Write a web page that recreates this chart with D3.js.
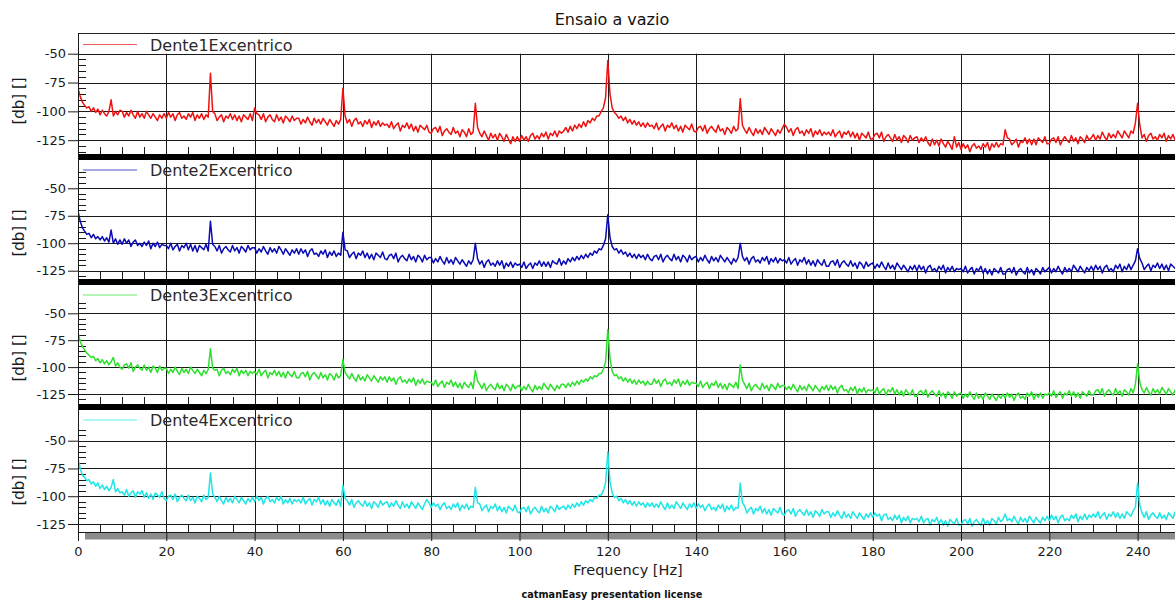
<!DOCTYPE html>
<html><head><meta charset="utf-8">
<script src="https://cdn.jsdelivr.net/npm/d3@7"></script>
<style>
body{margin:0;background:#fff;}
svg{display:block;font-family:"DejaVu Sans",Verdana,sans-serif;}
</style>
</head><body>
<svg id="c" width="1175" height="601"></svg>
<script>
const chartTitle = "Ensaio a vazio";
const xTitle = "Frequency [Hz]";
const yTitle = "[db] []";
const footer = "catmanEasy presentation license";
const seriesNames = ["Dente1Excentrico","Dente2Excentrico","Dente3Excentrico","Dente4Excentrico"];
const seriesColors = ["#f01010","#0a0ab4","#2ee02e","#1ee6e6"];
const xTicks = [0,20,40,60,80,100,120,140,160,180,200,220,240];
const yTicks = [-50,-75,-100,-125];
const freqStart = 0, freqStep = 0.5;   // spectrum sampling (Hz)

const dente1 = [
-80,-87,-92,-95,-97,-96,-100,-97,-101,-98,-103,-99,-102,-104,-100,-90,-104,-100,-103,-99,
-100,-105,-101,-104,-99,-103,-106,-100,-105,-102,-106,-100,-103,-106,-102,-105,-108,-103,-106,-102,
-106,-101,-105,-102,-108,-103,-101,-106,-104,-107,-102,-105,-101,-108,-103,-106,-102,-107,-103,-105,
-67,-100,-102,-108,-105,-103,-109,-104,-106,-102,-107,-103,-108,-104,-109,-103,-105,-107,-102,-108,
-97,-102,-103,-107,-102,-109,-105,-103,-107,-109,-103,-108,-105,-110,-104,-106,-109,-104,-108,-106,
-106,-111,-107,-110,-105,-109,-112,-106,-110,-107,-111,-106,-109,-112,-107,-110,-113,-108,-111,-107,
-80,-104,-110,-107,-113,-108,-106,-111,-109,-113,-108,-111,-107,-114,-109,-112,-108,-113,-110,-112,
-111,-114,-109,-115,-112,-110,-117,-112,-114,-110,-115,-111,-117,-113,-118,-112,-114,-116,-112,-118,
-119,-115,-114,-118,-113,-121,-117,-115,-118,-120,-114,-119,-117,-122,-116,-118,-122,-115,-120,-118,
-93,-114,-119,-122,-117,-121,-125,-119,-123,-120,-125,-119,-122,-126,-120,-124,-128,-122,-126,-122,
-126,-121,-125,-122,-126,-121,-119,-124,-121,-124,-119,-122,-118,-124,-119,-121,-117,-122,-117,-119,
-117,-114,-118,-113,-117,-112,-115,-111,-114,-109,-113,-108,-110,-106,-108,-104,-104,-100,-97,-88,
-56,-85,-97,-101,-103,-106,-104,-108,-105,-110,-107,-111,-108,-112,-109,-113,-110,-114,-110,-113,
-112,-115,-110,-116,-113,-111,-117,-112,-114,-110,-115,-112,-117,-113,-118,-112,-114,-116,-111,-117,
-118,-114,-113,-117,-112,-119,-115,-113,-116,-118,-112,-117,-115,-120,-114,-116,-119,-113,-117,-115,
-89,-112,-116,-119,-114,-118,-121,-115,-119,-116,-120,-114,-117,-120,-115,-118,-121,-116,-119,-115,
-111,-114,-118,-115,-121,-116,-114,-119,-117,-121,-116,-119,-115,-122,-117,-120,-116,-121,-118,-120,
-118,-121,-116,-122,-119,-117,-123,-118,-120,-117,-122,-118,-123,-119,-125,-119,-121,-123,-118,-124,
-124,-120,-119,-123,-118,-126,-122,-120,-123,-126,-120,-125,-122,-127,-121,-123,-127,-121,-125,-123,
-122,-127,-123,-126,-122,-127,-130,-124,-129,-125,-130,-124,-128,-131,-126,-129,-133,-122,-131,-127,
-133,-128,-132,-129,-135,-130,-128,-132,-130,-133,-128,-131,-127,-134,-128,-131,-127,-131,-128,-129,
-116,-123,-124,-129,-127,-124,-131,-126,-127,-123,-128,-124,-129,-124,-129,-123,-125,-127,-122,-128,
-128,-124,-123,-127,-122,-129,-125,-122,-125,-127,-121,-126,-123,-128,-122,-124,-127,-121,-125,-123,
-120,-125,-121,-124,-118,-122,-125,-119,-123,-120,-123,-117,-120,-123,-117,-120,-123,-117,-119,-110,
-93,-112,-123,-120,-126,-121,-119,-124,-122,-125,-120,-123,-119,-126,-121,-124,-120,-125,-121,-123];

const dente2 = [
-71,-80,-86,-89,-92,-91,-95,-92,-96,-94,-97,-94,-98,-95,-99,-88,-100,-96,-101,-97,
-101,-96,-100,-97,-103,-99,-97,-102,-100,-103,-99,-102,-98,-105,-100,-103,-99,-104,-101,-102,
-102,-105,-100,-106,-103,-101,-107,-102,-104,-100,-106,-101,-107,-102,-108,-102,-104,-106,-101,-107,
-80,-101,-103,-107,-102,-109,-105,-103,-106,-108,-102,-107,-104,-109,-103,-105,-108,-102,-106,-104,
-104,-109,-105,-108,-103,-107,-110,-104,-108,-105,-109,-103,-106,-110,-105,-108,-111,-106,-109,-105,
-110,-105,-109,-106,-112,-107,-105,-110,-109,-112,-107,-110,-106,-113,-108,-111,-107,-112,-109,-111,
-90,-106,-107,-113,-110,-108,-114,-109,-111,-107,-113,-109,-114,-110,-115,-109,-111,-113,-108,-114,
-115,-111,-110,-114,-109,-117,-113,-111,-114,-116,-110,-115,-112,-117,-111,-113,-117,-111,-115,-113,
-113,-118,-114,-117,-112,-116,-119,-113,-118,-115,-119,-113,-116,-119,-115,-118,-121,-116,-119,-115,
-100,-114,-119,-116,-122,-117,-115,-120,-118,-121,-116,-120,-116,-123,-118,-121,-117,-122,-118,-120,
-119,-122,-117,-123,-120,-118,-123,-118,-120,-116,-121,-117,-121,-117,-122,-116,-118,-119,-114,-120,
-116,-119,-114,-117,-113,-116,-112,-115,-111,-114,-110,-113,-109,-111,-107,-109,-105,-106,-102,-96,
-74,-95,-103,-106,-105,-109,-106,-110,-108,-112,-109,-113,-110,-114,-110,-113,-111,-115,-110,-114,
-116,-112,-111,-115,-110,-117,-113,-111,-114,-116,-110,-115,-112,-117,-111,-113,-117,-111,-115,-113,
-112,-117,-113,-116,-111,-115,-118,-112,-116,-113,-117,-111,-114,-117,-113,-116,-119,-114,-117,-113,
-100,-112,-116,-113,-119,-114,-112,-117,-115,-118,-113,-116,-112,-119,-114,-117,-113,-118,-114,-116,
-115,-118,-113,-119,-116,-114,-120,-115,-117,-113,-119,-115,-120,-116,-121,-115,-118,-120,-115,-121,
-121,-117,-116,-120,-115,-122,-118,-116,-119,-121,-116,-121,-118,-123,-117,-119,-123,-117,-121,-119,
-118,-123,-119,-122,-117,-121,-124,-118,-123,-120,-124,-118,-121,-124,-120,-123,-126,-121,-124,-120,
-125,-120,-124,-121,-127,-122,-120,-125,-123,-126,-121,-124,-120,-127,-122,-125,-121,-126,-123,-124,
-123,-126,-121,-127,-124,-122,-128,-123,-125,-121,-127,-123,-128,-124,-129,-123,-125,-127,-122,-128,
-128,-124,-123,-127,-122,-129,-125,-123,-126,-128,-122,-127,-124,-129,-123,-125,-128,-122,-126,-124,
-122,-127,-123,-126,-121,-125,-128,-122,-126,-123,-126,-120,-123,-126,-121,-124,-127,-122,-125,-121,
-125,-120,-124,-121,-127,-122,-120,-125,-123,-126,-120,-123,-119,-126,-121,-124,-119,-124,-120,-116,
-105,-114,-118,-124,-121,-119,-125,-120,-122,-118,-123,-119,-124,-120,-125,-119,-121,-123,-118,-124];

const dente3 = [
-68,-76,-81,-84,-87,-89,-91,-90,-94,-92,-96,-93,-97,-94,-98,-95,-91,-99,-96,-100,
-102,-98,-97,-101,-96,-104,-100,-98,-101,-103,-98,-103,-100,-105,-99,-101,-105,-99,-103,-101,
-101,-106,-102,-105,-100,-104,-107,-101,-105,-102,-106,-100,-103,-106,-102,-105,-108,-103,-106,-102,
-83,-101,-103,-102,-108,-103,-101,-106,-104,-107,-102,-105,-101,-108,-103,-106,-103,-108,-104,-106,
-104,-107,-102,-108,-105,-103,-110,-105,-107,-103,-108,-104,-109,-105,-110,-104,-107,-109,-104,-110,
-110,-106,-105,-109,-104,-112,-107,-105,-108,-111,-105,-110,-107,-112,-106,-108,-112,-106,-110,-108,
-93,-105,-108,-111,-106,-110,-113,-107,-112,-109,-113,-107,-110,-113,-108,-111,-114,-109,-112,-109,
-114,-109,-113,-110,-116,-111,-109,-114,-112,-115,-111,-114,-110,-117,-112,-115,-111,-116,-113,-114,
-114,-117,-112,-118,-115,-113,-119,-114,-116,-112,-118,-114,-119,-115,-120,-114,-117,-119,-114,-120,
-103,-113,-116,-120,-115,-122,-118,-116,-119,-121,-115,-120,-117,-122,-116,-118,-122,-116,-120,-118,
-117,-122,-118,-121,-116,-120,-123,-117,-121,-118,-121,-115,-118,-121,-116,-119,-122,-117,-120,-116,
-116,-119,-115,-118,-114,-117,-113,-116,-112,-114,-111,-113,-109,-111,-108,-109,-106,-106,-102,-95,
-65,-92,-104,-108,-107,-111,-109,-113,-110,-114,-111,-115,-112,-116,-112,-115,-113,-117,-113,-116,
-116,-111,-115,-112,-118,-113,-111,-116,-114,-117,-112,-115,-111,-118,-113,-116,-112,-117,-114,-115,
-115,-118,-113,-119,-116,-114,-120,-115,-117,-113,-119,-115,-120,-116,-121,-115,-117,-119,-114,-120,
-98,-112,-116,-120,-115,-122,-118,-116,-119,-121,-115,-120,-117,-122,-116,-118,-121,-115,-119,-117,
-117,-121,-118,-121,-116,-120,-123,-117,-121,-118,-122,-116,-119,-122,-117,-120,-123,-118,-121,-117,
-122,-117,-121,-118,-124,-119,-117,-122,-121,-124,-119,-122,-118,-125,-120,-123,-119,-124,-121,-122,
-121,-124,-119,-125,-122,-120,-126,-121,-123,-119,-125,-121,-126,-122,-127,-121,-124,-126,-121,-127,
-127,-123,-122,-126,-121,-128,-124,-122,-125,-127,-122,-127,-124,-129,-123,-125,-129,-123,-127,-125,
-124,-129,-125,-128,-123,-127,-130,-124,-129,-126,-130,-124,-127,-130,-125,-128,-131,-126,-129,-125,
-129,-124,-128,-125,-131,-126,-124,-129,-127,-130,-124,-127,-123,-130,-125,-128,-124,-129,-125,-126,
-124,-127,-122,-128,-125,-123,-129,-124,-126,-122,-127,-123,-128,-124,-129,-123,-125,-127,-122,-126,
-126,-122,-121,-125,-120,-127,-123,-121,-124,-126,-120,-125,-122,-127,-121,-123,-126,-120,-124,-116,
-97,-114,-121,-124,-119,-123,-126,-120,-124,-121,-125,-119,-122,-125,-120,-123,-126,-121,-124,-120];

const dente4 = [
-66,-75,-81,-83,-86,-85,-89,-87,-91,-88,-93,-90,-94,-91,-95,-92,-85,-96,-93,-97,
-96,-99,-94,-100,-97,-95,-101,-96,-98,-95,-101,-97,-102,-98,-103,-97,-99,-101,-96,-102,
-104,-100,-99,-103,-98,-105,-101,-99,-102,-104,-99,-104,-101,-106,-100,-102,-105,-99,-103,-101,
-79,-98,-101,-105,-100,-104,-107,-101,-105,-102,-106,-100,-103,-106,-101,-104,-107,-102,-105,-101,
-105,-100,-104,-101,-107,-102,-100,-105,-103,-106,-101,-104,-100,-107,-103,-106,-102,-107,-103,-105,
-103,-106,-101,-107,-104,-102,-108,-103,-105,-101,-107,-103,-108,-104,-109,-103,-106,-108,-103,-109,
-90,-102,-104,-108,-103,-110,-106,-104,-107,-109,-104,-109,-106,-111,-105,-107,-110,-104,-108,-106,
-105,-110,-106,-109,-104,-108,-111,-105,-110,-107,-111,-105,-108,-111,-106,-109,-112,-107,-103,-106,
-110,-106,-109,-107,-112,-108,-106,-111,-109,-112,-107,-110,-106,-113,-108,-111,-107,-112,-109,-110,
-92,-106,-107,-113,-110,-108,-114,-109,-111,-107,-113,-109,-114,-110,-115,-109,-111,-113,-108,-114,
-115,-111,-110,-114,-109,-116,-112,-110,-113,-115,-109,-114,-111,-115,-109,-111,-114,-108,-112,-110,
-109,-112,-108,-111,-107,-110,-106,-109,-105,-108,-104,-106,-103,-105,-101,-102,-99,-99,-95,-88,
-60,-87,-97,-101,-100,-104,-102,-106,-103,-107,-104,-108,-105,-109,-105,-108,-106,-110,-106,-109,
-106,-110,-107,-110,-105,-109,-112,-106,-111,-108,-111,-105,-108,-111,-106,-109,-112,-107,-110,-106,
-111,-107,-110,-108,-113,-109,-107,-112,-110,-113,-108,-111,-107,-114,-109,-112,-108,-113,-110,-111,
-88,-106,-109,-115,-112,-110,-116,-111,-113,-109,-115,-111,-116,-112,-117,-111,-113,-115,-110,-116,
-117,-113,-112,-116,-111,-118,-114,-112,-115,-117,-112,-117,-114,-119,-113,-115,-118,-112,-116,-114,
-114,-119,-115,-118,-113,-117,-120,-114,-119,-116,-120,-114,-117,-120,-115,-118,-121,-116,-119,-115,
-119,-115,-118,-116,-122,-117,-116,-121,-119,-122,-117,-121,-117,-124,-119,-122,-118,-124,-120,-121,
-120,-123,-118,-124,-121,-120,-126,-121,-123,-119,-125,-121,-126,-122,-127,-121,-123,-125,-120,-126,
-126,-122,-121,-125,-120,-127,-123,-121,-124,-126,-120,-125,-122,-126,-120,-122,-125,-119,-123,-121,
-116,-122,-120,-123,-118,-122,-125,-119,-123,-120,-124,-118,-121,-124,-119,-122,-124,-119,-122,-118,
-122,-117,-121,-118,-124,-119,-117,-122,-120,-122,-117,-120,-116,-123,-118,-121,-116,-121,-117,-119,
-116,-119,-114,-120,-117,-115,-121,-116,-118,-114,-119,-115,-120,-116,-120,-114,-116,-118,-113,-110,
-88,-108,-115,-119,-114,-121,-117,-115,-118,-120,-115,-120,-117,-121,-115,-117,-120,-114,-118,-116];

const seriesValues = [dente1, dente2, dente3, dente4];

// ---------- layout (pixels) ----------
const W = 1175;
const x = d3.scaleLinear().domain([0, 250]).range([78, 78 + 250 * 4.415]);
const panels = [
  {frameTop:33,  gridTop:53.7, bottom:154, y50:53.7,  y125:140.2, minorFrom:-55, labelY:101, legendBase:50.5},
  {frameTop:160, gridTop:160,  bottom:279, y50:188.3, y125:270.7, minorFrom:-35, labelY:233, legendBase:176},
  {frameTop:285, gridTop:285,  bottom:404, y50:313.3, y125:394,   minorFrom:-40, labelY:358, legendBase:301},
  {frameTop:410, gridTop:410,  bottom:532, y50:440.7, y125:524,   minorFrom:-40, labelY:482, legendBase:426}
];

const svg = d3.select("#c");
svg.append("rect").attr("width", W).attr("height", 601).attr("fill", "#fff");
const defs = svg.append("defs");

svg.append("text").attr("x", 612).attr("y", 25).attr("text-anchor", "middle")
  .attr("font-size", 16).attr("fill", "#111").text(chartTitle);

svg.append("line").attr("x1", 78).attr("x2", W).attr("y1", 33.5).attr("y2", 33.5)
  .attr("stroke", "#222").attr("stroke-width", 1);

const minorX = d3.range(5, 250, 5).filter(v => v % 20 !== 0);

panels.forEach((p, i) => {
  const y = d3.scaleLinear().domain([-125, -50]).range([p.y125, p.y50]);
  const last = i === panels.length - 1;
  const plotBottom = last ? 524 : p.bottom;
  const g = svg.append("g");

  g.selectAll(".hg").data(yTicks).join("line")
    .attr("x1", 78).attr("x2", W)
    .attr("y1", d => Math.round(y(d)) + 0.5).attr("y2", d => Math.round(y(d)) + 0.5)
    .attr("stroke", "#1a1a1a").attr("stroke-width", 1);

  g.selectAll(".vg").data(xTicks.filter(d => d > 0)).join("line")
    .attr("x1", d => Math.round(x(d)) + 0.5).attr("x2", d => Math.round(x(d)) + 0.5)
    .attr("y1", p.gridTop).attr("y2", p.bottom)
    .attr("stroke", "#1a1a1a").attr("stroke-width", 1);

  const dBottom = y.invert(plotBottom - 1);
  const minorY = d3.range(p.minorFrom, dBottom, -5).filter(v => v % 25 !== 0);
  g.selectAll(".my").data(minorY).join("line")
    .attr("x1", 78).attr("x2", 86)
    .attr("y1", d => Math.round(y(d)) + 0.5).attr("y2", d => Math.round(y(d)) + 0.5)
    .attr("stroke", "#1a1a1a").attr("stroke-width", 1);

  g.selectAll(".mx").data(minorX).join("line")
    .attr("x1", d => Math.round(x(d)) + 0.5).attr("x2", d => Math.round(x(d)) + 0.5)
    .attr("y1", last ? 524 : p.bottom - 7).attr("y2", p.bottom)
    .attr("stroke", "#1a1a1a").attr("stroke-width", 1);

  const ax = g.append("g").attr("transform", "translate(78,0)")
    .call(d3.axisLeft(y).tickValues(yTicks).tickSize(10).tickPadding(2).tickFormat(d => String(d)));
  ax.select(".domain").remove();
  ax.selectAll("line").attr("stroke", "#1a1a1a");
  ax.selectAll("text").attr("font-size", 13).attr("fill", "#1a1a1a")
    .attr("font-family", '"DejaVu Sans",Verdana,sans-serif');

  const cid = "clip" + i;
  defs.append("clipPath").attr("id", cid).append("rect")
    .attr("x", 78).attr("y", p.gridTop).attr("width", W - 78).attr("height", p.bottom - p.gridTop);
  const pts = seriesValues[i].map((v, k) => [freqStart + k * freqStep, v]);
  g.append("path").datum(pts)
    .attr("clip-path", `url(#${cid})`)
    .attr("fill", "none").attr("stroke", seriesColors[i]).attr("stroke-width", 1.5)
    .attr("stroke-linejoin", "round")
    .attr("d", d3.line().x(d => x(d[0])).y(d => y(d[1])));

  if (!last) {
    g.append("rect").attr("x", 78).attr("y", p.bottom).attr("width", W - 78).attr("height", 6).attr("fill", "#000");
  } else {
    g.append("line").attr("x1", 78).attr("x2", W).attr("y1", 524.5).attr("y2", 524.5).attr("stroke", "#1a1a1a");
    g.append("line").attr("x1", 78).attr("x2", W).attr("y1", 532.5).attr("y2", 532.5).attr("stroke", "#1a1a1a");
    g.append("rect").attr("x", 85).attr("y", 533).attr("width", W - 85).attr("height", 6.5).attr("fill", "#8c8c8c");
  }

  g.append("line").attr("x1", 83).attr("x2", 137)
    .attr("y1", p.legendBase - 6).attr("y2", p.legendBase - 6)
    .attr("stroke", seriesColors[i]).attr("stroke-opacity", 0.7).attr("stroke-width", 1.2);
  g.append("text").attr("x", 150).attr("y", p.legendBase)
    .attr("font-size", 16).attr("fill", "#2a2a2a").text(seriesNames[i]);

  g.append("text").attr("transform", `translate(19,${p.labelY}) rotate(-90)`)
    .attr("text-anchor", "middle").attr("dominant-baseline", "central")
    .attr("font-size", 15).attr("fill", "#1a1a1a").text(yTitle);
});

const xa = svg.append("g").attr("transform", "translate(0,532)")
  .call(d3.axisBottom(x).tickValues(xTicks).tickSize(9).tickFormat(d => String(d)));
xa.select(".domain").remove();
xa.selectAll("line").attr("stroke", "#1a1a1a");
xa.selectAll("text").attr("y", 24).attr("dy", null).attr("font-size", 13).attr("fill", "#1a1a1a")
  .attr("font-family", '"DejaVu Sans",Verdana,sans-serif');

svg.append("line").attr("x1", 78.5).attr("x2", 78.5).attr("y1", 33).attr("y2", 541)
  .attr("stroke", "#1a1a1a").attr("stroke-width", 1);

svg.append("text").attr("x", 628).attr("y", 575).attr("text-anchor", "middle")
  .attr("font-size", 14.5).attr("fill", "#1a1a1a").text(xTitle);

svg.append("text").attr("x", 612).attr("y", 597.5).attr("text-anchor", "middle")
  .attr("font-size", 9.7).attr("font-weight", "bold").attr("fill", "#111").text(footer);
</script>
</body></html>
